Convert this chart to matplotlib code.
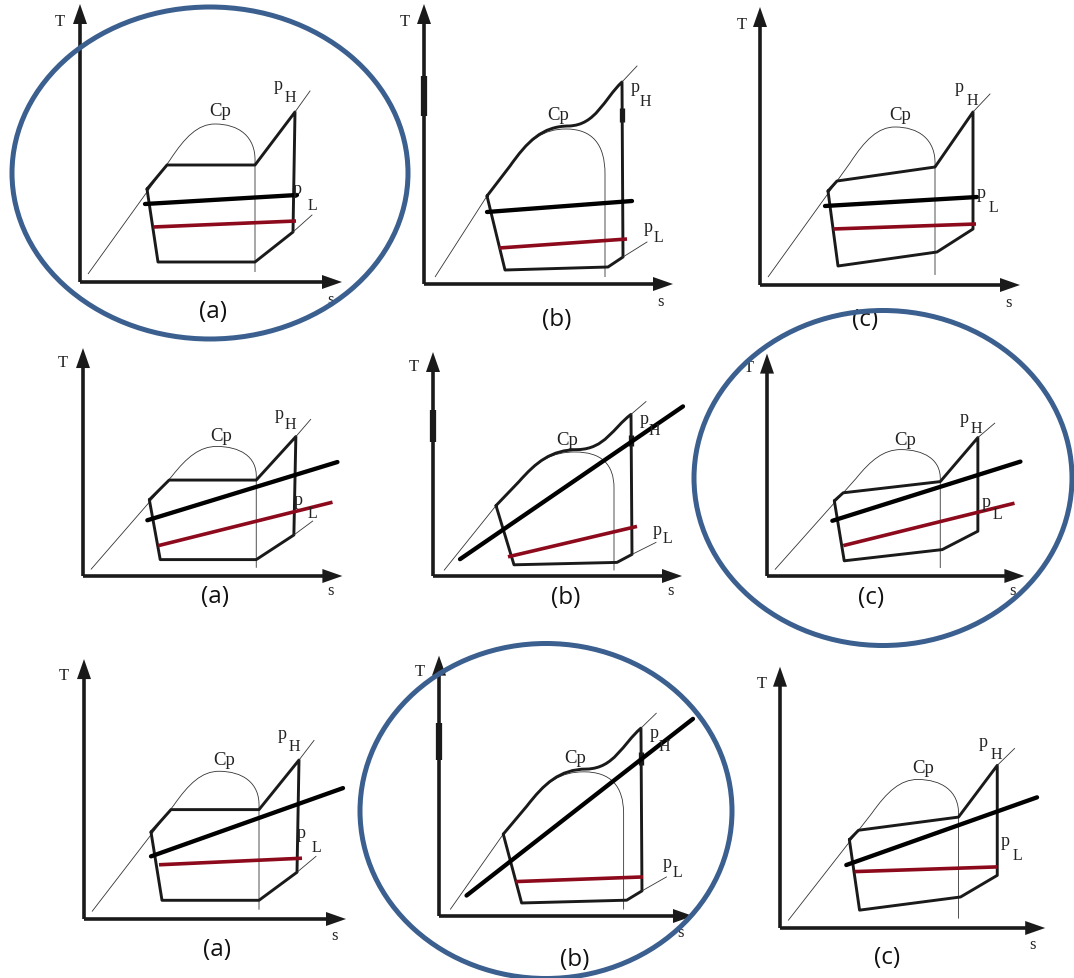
import matplotlib
matplotlib.use("Agg")
import matplotlib.pyplot as plt
from matplotlib.path import Path
from matplotlib.patches import PathPatch, Polygon, Ellipse

# panel layout: kind of cycle, axis corner (px) and scale of each small T-s sketch
panel_kind = ["a", "b", "c", "a", "b", "c", "a", "b", "c"]
panel_x0 = [80, 424, 760, 83, 433, 767, 84, 439, 780]
panel_y0 = [283, 285, 286, 577, 577, 577, 920, 917, 929]
panel_sx = [1.0, 1.0, 1.0, 0.99, 1.0, 0.99, 1.0, 1.02, 1.02]
panel_sy = [1.0, 1.0, 1.0, 0.82, 0.80, 0.80, 0.935, 0.93, 0.94]
caption_dy = [29, 35, 34, 20, 21, 21, 30, 43, 29]
captions = ["(a)", "(b)", "(c)"] * 3

# black and red lines (s, T) for every panel, in sketch units
black_lines = [
    [(65, 78), (217, 87)], [(63, 72), (208, 83)], [(65, 79), (217, 88)],
    [(65, 68), (257, 139)], [(27, 21), (250, 212)], [(66, 69), (256, 143)],
    [(67, 67), (259, 140)], [(27, 22), (249, 212)], [(65, 67), (252, 139)],
]
red_lines = [
    [(73, 55), (216, 61)], [(75, 36), (203, 45)], [(73, 56), (216, 61)],
    [(76, 37), (252, 90)], [(75, 24), (204, 62)], [(77, 38), (250, 91)],
    [(75, 58), (218, 65)], [(75, 37), (200, 42)], [(73, 60), (213, 65)],
]

# saturation dome (thin) and the cycle outline for each kind
M, L, C = Path.MOVETO, Path.LINETO, Path.CURVE4
dome_ac = [(8, 8), (90, 122), (105, 145), (118, 158), (135, 158),
           (158, 158), (176, 146), (175, 120), (175, 10)]
dome_ac_codes = [M, L, C, C, C, C, C, C, L]
dome_b = [(11, 7), (63, 88), (86, 118), (105, 145), (120, 155), (142, 155),
          (168, 155), (181, 140), (181, 110), (181, 7)]
dome_b_codes = [M, L, L, C, C, C, C, C, C, L]

cycle_a = [(67, 93), (87, 117), (175, 117), (215, 170), (213, 50),
           (175, 20), (78, 20), (67, 93)]
cycle_c = [(68, 94), (77, 104), (175, 118), (213, 173), (213, 56),
           (177, 33), (78, 19), (68, 94)]
cycle_b = [(63, 88), (86, 118), (103, 142), (118, 158), (145, 158),
           (172, 159), (180, 185), (198, 202), (199, 27), (184, 17),
           (81, 14), (63, 88)]
cycle_b_codes = [M, L, C, C, C, C, C, C, L, L, L, L]

ph_ext = {"a": [(215, 170), (230, 191)], "b": [(198, 202), (213, 218)],
          "c": [(213, 173), (230, 191)]}
pl_ext = {"a": [(213, 50), (232, 67)], "b": [(199, 27), (223, 42)], "c": None}
axis_len = {"a": (262, 278), "b": (249, 280), "c": (260, 278)}

label_T = {"a": (-20, 261), "b": (-19, 263), "c": (-18, 261)}
label_cp = {"a": (140, 171), "b": (134, 170), "c": (140, 171)}
label_ph = {"a": ((198, 198), (210, 185)), "b": ((211, 197), (221, 183)),
            "c": ((199, 198), (212, 185))}
label_pl = {"a": ((217, 93), (232, 77)), "b": ((224, 58), (234, 47)),
            "c": ((221, 93), (233, 78))}
caption_u = {"a": 133, "b": 133, "c": 105}

# ellipses marking the chosen cases: centre, width, height (px)
ellipse_xy = [(210, 174), (883, 479), (546, 812)]
ellipse_w = [396, 378, 372]
ellipse_h = [332, 335, 335]

RED = "#8c0a1c"
BLUE = "#3b5f8e"
SERIF = "Liberation Serif"

fig = plt.figure(figsize=(10.74, 9.79), dpi=100)
ax = fig.add_axes([0, 0, 1, 1])
ax.set_xlim(0, 1074)
ax.set_ylim(979, 0)
ax.axis("off")

for i, kind in enumerate(panel_kind):
    x0, y0, sx, sy = panel_x0[i], panel_y0[i], panel_sx[i], panel_sy[i]

    def tf(pts):
        return [(x0 + sx * u, y0 - sy * v) for u, v in pts]

    def line(pts, **kw):
        p = tf(pts)
        ax.plot([q[0] for q in p], [q[1] for q in p], **kw)

    # axes with arrow heads
    w, h = axis_len[kind]
    xt, yt = x0 + sx * w, y0 - sy * h
    ax.plot([x0, x0], [y0, yt + 16], color="#1a1a1a", lw=2.6, solid_capstyle="butt")
    ax.plot([x0, xt - 16], [y0, y0], color="#1a1a1a", lw=2.6, solid_capstyle="butt")
    ax.add_patch(Polygon([(x0, yt), (x0 - 7, yt + 20), (x0 + 7, yt + 20)],
                         closed=True, color="#1a1a1a", lw=0))
    ax.add_patch(Polygon([(xt, y0), (xt - 20, y0 - 7), (xt - 20, y0 + 7)],
                         closed=True, color="#1a1a1a", lw=0))
    if kind == "b":
        line([(0, 168), (0, 208)], color="#1a1a1a", lw=4.5, solid_capstyle="butt")
        line([(198, 162), (198, 176)], color="#1a1a1a", lw=3.8, solid_capstyle="butt")

    # dome
    if kind == "b":
        dv, dc = dome_b, dome_b_codes
    else:
        dv, dc = dome_ac, dome_ac_codes
    ax.add_patch(PathPatch(Path(tf(dv), dc), fill=False, ec="#333333", lw=0.6))

    # cycle
    if kind == "b":
        cyc = Path(tf(cycle_b), cycle_b_codes)
    else:
        cyc = Path(tf(cycle_a if kind == "a" else cycle_c))
    ax.add_patch(PathPatch(cyc, fill=False, ec="#1a1a1a", lw=2.1,
                           joinstyle="round", capstyle="round"))
    line(ph_ext[kind], color="#333333", lw=0.6)
    if pl_ext[kind] is not None:
        line(pl_ext[kind], color="#333333", lw=0.6)

    line(black_lines[i], color="black", lw=3.1, solid_capstyle="round", zorder=3)
    line(red_lines[i], color=RED, lw=2.6, solid_capstyle="butt", zorder=3)

    # labels
    def txt(uv, s, size, **kw):
        X, Y = tf([uv])[0]
        ax.text(X, Y, s, ha="center", va="center", fontsize=size,
                family=SERIF, color="#222222", **kw)

    txt(label_T[kind], "T", 12)
    txt(label_cp[kind], "Cp", 13.5)
    txt(label_ph[kind][0], "p", 13)
    txt(label_ph[kind][1], "H", 11.5)
    txt(label_pl[kind][0], "p", 13)
    txt(label_pl[kind][1], "L", 11.5)
    txt((w - 12, -17), "s", 12)
    X, _ = tf([(caption_u[kind], 0)])[0]
    ax.text(X, y0 + caption_dy[i], captions[i], ha="center", va="center",
            fontsize=17.5, family="Open Sans", color="#111111")

for c, w, h in zip(ellipse_xy, ellipse_w, ellipse_h):
    ax.add_patch(Ellipse(c, w, h, fill=False, ec=BLUE, lw=3.6, zorder=5))

fig.savefig("out.png", dpi=100, facecolor="white")
